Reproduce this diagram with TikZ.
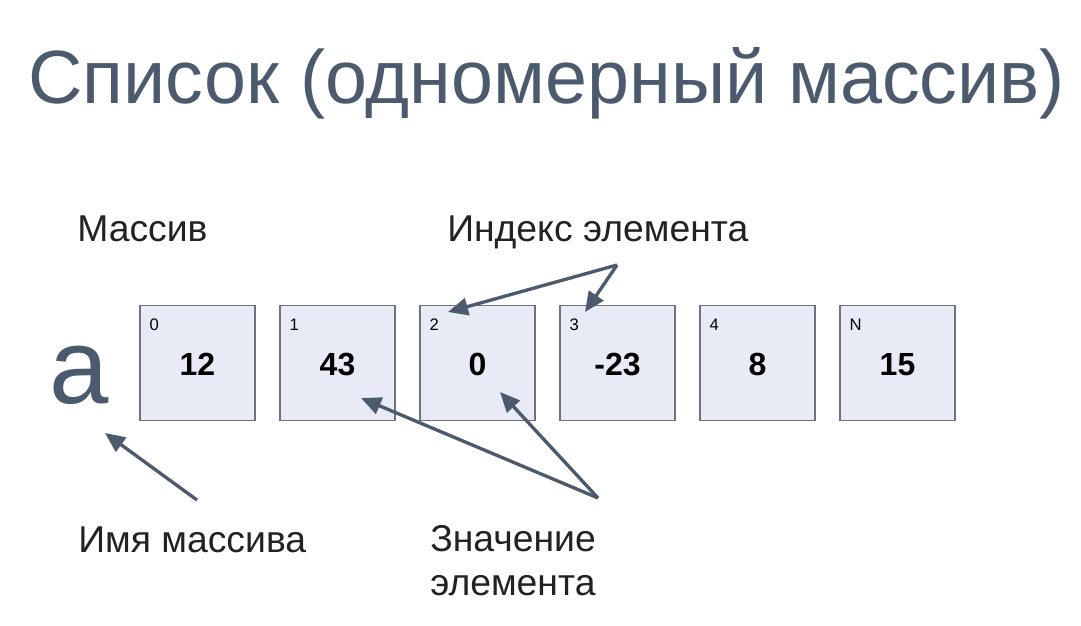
\documentclass[tikz,border=0pt]{standalone}
\usepackage{fontspec}
\setmainfont{Liberation Sans}
\usetikzlibrary{arrows.meta}
\definecolor{slate}{HTML}{4B5A6D}
\definecolor{cellfill}{HTML}{E8EAF6}
\definecolor{cellline}{HTML}{6E727C}
\definecolor{txt}{HTML}{222222}
\begin{document}
\begin{tikzpicture}[x=0.75pt,y=-0.75pt,line join=miter,>={Triangle[length=15pt,width=13pt]}]
		\tikzset{cell/.style={draw=cellline,fill=cellfill,line width=1.1pt,minimum size=86.25pt,inner sep=0pt},
			idx/.style={font=\fontsize{12.5}{13}\selectfont,anchor=base west,inner sep=0pt},
			val/.style={font=\fontsize{24}{26}\selectfont\bfseries,anchor=base,inner sep=0pt},
			lbl/.style={font=\fontsize{28}{33}\selectfont,text=txt,anchor=base west,inner sep=0pt,align=left},
			ptr/.style={draw=slate,line width=2.5pt,->}}
		\useasboundingbox (0,0) rectangle (1081,625);
		\node[anchor=base west,inner sep=0pt,text=slate,font=\fontsize{56.6}{60}\selectfont] (title) at (28,103) {Список (одномерный массив)};
		\node[anchor=base west,inner sep=0pt,text=slate,font=\fontsize{80}{80}\selectfont] (name) at (49,403) {а};
		%--------- Ячейки массива
		\foreach \k/\v [count=\i from 0] in {0/12,1/43,2/0,3/-23,4/8,N/15}{
			\node[cell] (c\i) at ({197.5+140*\i},363) {};
			\node[idx] (i\i) at ([xshift=7.5pt,yshift=-19.5pt]c\i.north west) {\k};
			\node[val] (v\i) at ([yshift=-9pt]c\i.center) {\v};
		}
		%--------- Подписи
		\node[lbl] (arrlbl) at (77,241) {Массив};
		\node[lbl] (idxlbl) at (447,241) {Индекс элемента};
		\node[lbl] (namelbl) at (78,552) {Имя массива};
		\node[lbl] (vallbl) at (430,595) {Значение\\элемента};
		%--------- Стрелки
		\coordinate (idxtail) at (617,265);
		\coordinate (nametail) at (197,500);
		\coordinate (valtail) at (598,498);
		\coordinate (tip2) at (448,312);
		\coordinate (tip3) at (585,312);
		\coordinate (tipa) at (105,433);
		\coordinate (tipv1) at (361,398);
		\coordinate (tipv2) at (500,392);
		\draw[ptr] (idxtail) -- (tip2);
		\draw[ptr] (idxtail) -- (tip3);
		\draw[ptr] (nametail) -- (tipa);
		\draw[ptr] (valtail) -- (tipv1);
		\draw[ptr] (valtail) -- (tipv2);
	\end{tikzpicture}
\end{document}
